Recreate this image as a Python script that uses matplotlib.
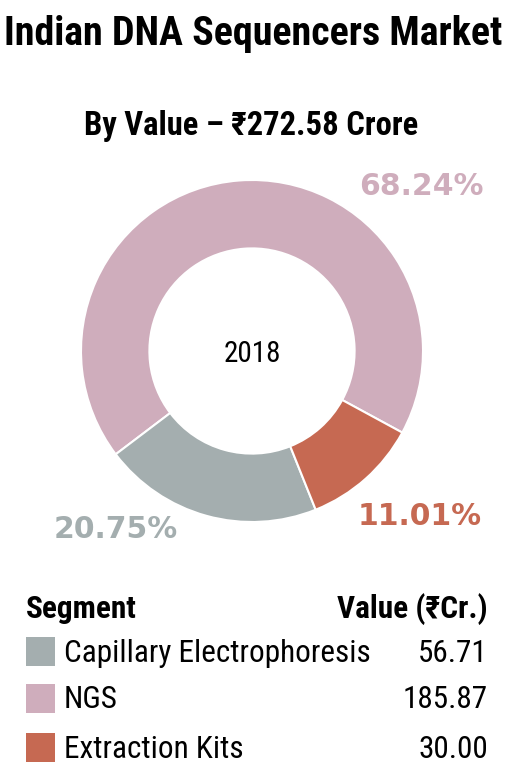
import matplotlib
matplotlib.use("Agg")
import matplotlib.pyplot as plt
from matplotlib.patches import Rectangle

# data (order of the legend table)
segments = ["Capillary Electrophoresis", "NGS", "Extraction Kits"]
values = [56.71, 185.87, 30.00]
shares = [20.75, 68.24, 11.01]
colors = ["#a4aeaf", "#cfadbc", "#c66952"]
year = "2018"
total = 272.58

NARROW = ["Roboto Condensed", "Archivo Narrow", "DejaVu Sans"]
WIDE = ["DejaVu Sans"]

W, H = 509, 781
fig = plt.figure(figsize=(W / 100, H / 100), dpi=100)

# donut: centre (252, 351), radius 171 px
cx, cy, r = 252, 351, 171
ax = fig.add_axes([(cx - r) / W, (H - cy - r) / H, 2 * r / W, 2 * r / H])
# wedge order round the ring: NGS, Capillary, Extraction (counter-clockwise)
order = [1, 0, 2]
ax.pie([shares[i] for i in order], colors=[colors[i] for i in order],
       startangle=-28.5, counterclock=True, radius=1,
       wedgeprops=dict(width=0.4, edgecolor="white", linewidth=1.5))
ax.set_xlim(-1, 1)
ax.set_ylim(-1, 1)
ax.set_aspect("equal")
ax.axis("off")

# overlay in pixel coordinates for text and table
ov = fig.add_axes([0, 0, 1, 1])
ov.set_xlim(0, W)
ov.set_ylim(H, 0)
ov.axis("off")

ov.text(253.5, 45, "Indian DNA Sequencers Market", family=NARROW, weight="bold",
        fontsize=28.8, ha="center", va="baseline")
ov.text(251, 135, f"By Value \u2013 \u20b9{total:.2f} Crore", family=NARROW,
        weight="bold", fontsize=23.5, ha="center", va="baseline")
ov.text(cx, 362, year, family=NARROW, fontsize=21, ha="center", va="baseline")

# percentage labels
label_pos = [(116, 538), (421, 195), (420, 525)]
for (x, y), s, c in zip(label_pos, shares, colors):
    ov.text(x, y, f"{s:.2f}%", family=WIDE, weight="bold", fontsize=21.5,
            color=c, ha="center", va="baseline")

# table
ov.text(26, 618, "Segment", family=NARROW, weight="bold", fontsize=22.5,
        ha="left", va="baseline")
ov.text(488, 618, "Value (\u20b9Cr.)", family=NARROW, weight="bold",
        fontsize=22.5, ha="right", va="baseline")
row_y = [651, 698, 747]
for y, name, v, c in zip(row_y, segments, values, colors):
    ov.add_patch(Rectangle((26, y - 14.5), 29, 29, color=c, lw=0))
    ov.text(64, y + 10.5, name, family=NARROW, fontsize=22.5, ha="left",
            va="baseline")
    ov.text(488, y + 10.5, f"{v:.2f}", family=NARROW, fontsize=22.5,
            ha="right", va="baseline")

fig.savefig("out.png", dpi=100)
